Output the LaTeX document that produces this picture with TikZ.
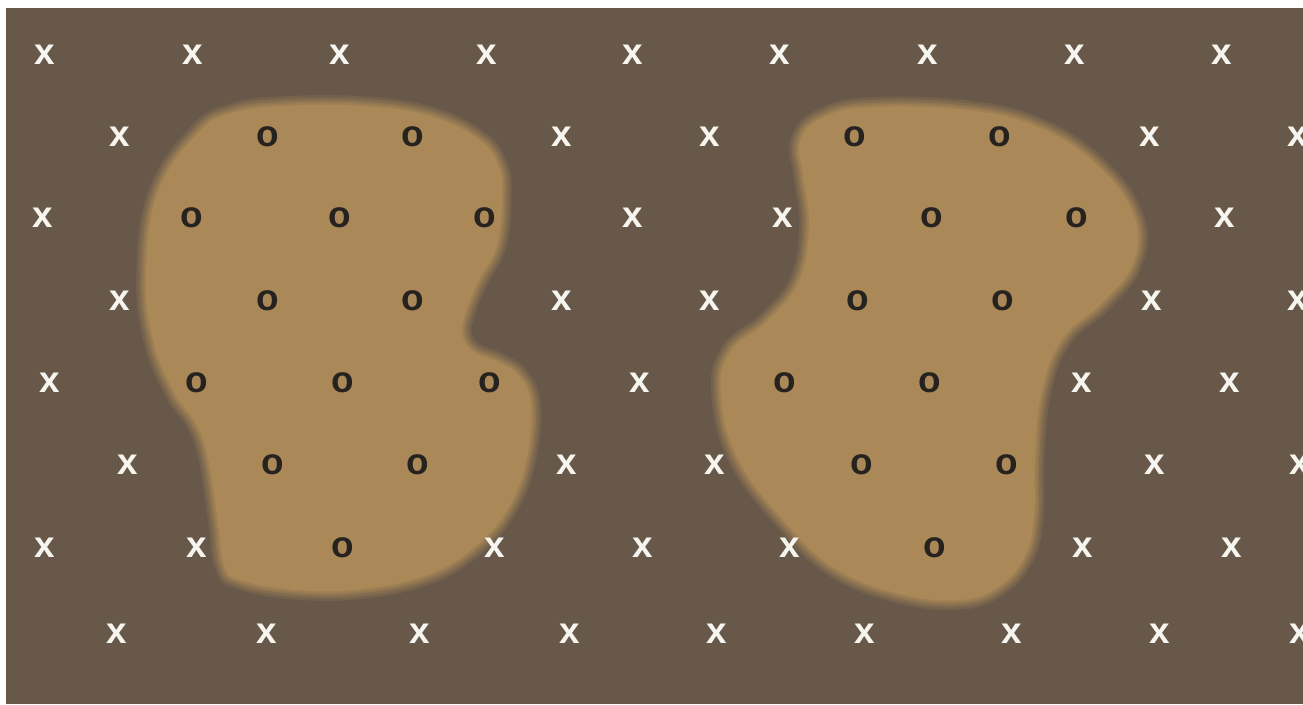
\documentclass[tikz,border=0pt]{standalone}
\usepackage{fontspec}
\newfontfamily\markfont{Liberation Sans}
\usepackage{tikz}
\usetikzlibrary{calc, positioning}

\definecolor{soil}{RGB}{103,88,73}
\definecolor{patch}{RGB}{170,136,87}
\definecolor{ink}{RGB}{38,34,31}
\definecolor{chalk}{RGB}{247,245,240}

\begin{document}
\begin{tikzpicture}[
    x=0.02cm, y=-0.02cm,
    region/.style={
        fill=patch,
        preaction={draw=patch!20!soil, line width=11pt},
        preaction={draw=patch!40!soil, line width=8pt},
        preaction={draw=patch!62!soil, line width=5pt},
        preaction={draw=patch!82!soil, line width=2.5pt}
    },
    cell x/.style={
        inner sep=0pt, text=chalk,
        font=\markfont\bfseries\fontsize{21}{21}\selectfont
    },
    cell o/.style={
        inner sep=0pt, text=ink,
        font=\markfont\bfseries\fontsize{21}{21}\selectfont
    },
]

% Frame and ground
\useasboundingbox (0,0) rectangle (1303,704);
\fill[white] (0,0) rectangle (1303,704);
\fill[soil] (6,8) rectangle (1303,704);

% Left region
\fill[region] plot[smooth cycle, tension=0.7] coordinates {
    (232,113) (282,106) (363,106) (430,116) (478,139) (498,165)
    (502,195) (497,245) (478,282) (464,318) (463,337) (474,352)
    (498,362) (519,376) (531,404) (527,457) (510,505) (478,544)
    (430,574) (363,589) (297,590) (240,580) (224,565) (218,523)
    (208,458) (196,424) (174,392) (153,340) (146,273) (158,192)
    (198,133)};

% Right region
\fill[region] plot[smooth cycle, tension=0.7] coordinates {
    (800,141) (822,118) (870,107) (967,110) (1038,127) (1097,165)
    (1134,216) (1133,263) (1102,303) (1063,338) (1042,390) (1035,457)
    (1034,517) (1024,558) (998,587) (960,600) (900,594) (836,569)
    (786,523) (738,459) (721,395) (730,352) (767,321) (799,281)
    (809,225) (803,176)};

% Grid of marks, row by row: y / {x/letter, ...}
\foreach \py/\row [count=\r] in {
    55/{45/x,193/x,340/x,487/x,633/x,780/x,928/x,1075/x,1222/x},
    137/{120/x,268/o,413/o,562/x,710/x,855/o,1000/o,1150/x,1298/x},
    218/{43/x,192/o,340/o,485/o,633/x,783/x,932/o,1077/o,1225/x},
    301/{120/x,268/o,413/o,562/x,710/x,858/o,1003/o,1152/x,1298/x},
    383/{50/x,197/o,343/o,490/o,640/x,785/o,930/o,1082/x,1230/x},
    465/{128/x,273/o,418/o,567/x,715/x,862/o,1007/o,1155/x,1300/x},
    548/{45/x,197/x,343/o,495/x,643/x,790/x,935/o,1083/x,1232/x},
    634/{117/x,267/x,420/x,570/x,717/x,865/x,1012/x,1160/x,1300/x}} {
    \foreach \px/\t [count=\c] in \row {
        \node[cell \t] (r\r c\c) at (\px,\py) {\t};
    }
}

\end{tikzpicture}
\end{document}
